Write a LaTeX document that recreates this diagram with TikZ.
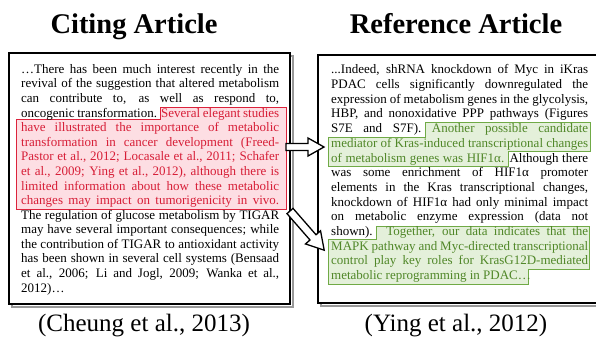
\documentclass[tikz,border=0pt]{standalone}
\usepackage{fontspec}
\setmainfont{Liberation Serif}
\definecolor{redtxt}{RGB}{215,30,55}
\definecolor{redfill}{RGB}{253,222,227}
\definecolor{redline}{RGB}{220,35,60}
\definecolor{grntxt}{RGB}{80,135,40}
\definecolor{grnfill}{RGB}{228,240,218}
\definecolor{grnline}{RGB}{112,170,70}
\newcommand\jlL[1]{\makebox[258pt][s]{#1}}
\newcommand\jlR[1]{\makebox[257pt][s]{#1}}
\newcommand\redt[1]{\textcolor{redtxt}{#1}}
\newcommand\grnt[1]{\textcolor{grntxt}{#1}}
\begin{document}
\begin{tikzpicture}[x=1pt,y=-1pt,
  txt/.style={anchor=base west, inner sep=0pt, font=\fontsize{13}{14.6}\selectfont},
  frame/.style={draw=black, line width=2.2pt, fill=white},
  boxshadow/.style={draw=black!40, line width=2pt},
  redhl/.style={fill=redfill, draw=redline, line width=0.9pt},
  grnhl/.style={fill=grnfill, draw=grnline, line width=0.9pt},
  blockarrow/.style={draw=black, fill=white, line width=1.3pt, line join=miter},
  title/.style={font=\fontsize{28.5}{30}\selectfont\bfseries, anchor=base, inner sep=0pt},
  caption/.style={font=\fontsize{25}{28}\selectfont, anchor=base, inner sep=0pt}]
\useasboundingbox (0,0) rectangle (596,338);
% titles
\node[title] (t1) at (134,33) {Citing Article};
\node[title] (t2) at (456,33) {Reference Article};
% frames
\draw[boxshadow] (11.5,55.5) rectangle (292.5,306.5);
\draw[frame] (9,53) rectangle (290,304);
\draw[boxshadow] (320.5,57.5) rectangle (620,305.5);
\draw[frame] (318,55) rectangle (620,303);
% highlights
\draw[redhl] (160,107) -- (286,107) -- (286,209) -- (16,209) -- (16,119.5) -- (160,119.5) -- cycle;
\draw[grnhl] (425,122) -- (590,122) -- (590,151) -- (508,151) -- (508,166) -- (328,166) -- (328,137) -- (425,137) -- cycle;
\draw[grnhl] (376,226) -- (589,226) -- (589,269) -- (528,269) -- (528,284) -- (328,284) -- (328,239) -- (376,239) -- cycle;
% left text
\node[txt] (l0) at (21,73.3) {\jlL{…There has been much interest recently in the}};
\node[txt] (l1) at (21,87.9) {\jlL{revival of the suggestion that altered metabolism}};
\node[txt] (l2) at (21,102.5) {\jlL{can contribute to, as well as respond to,}};
\node[txt] (l3) at (21,117.0) {\jlL{oncogenic transformation. \redt{Several elegant studies}}};
\node[txt] (l4) at (21,131.6) {\jlL{\redt{have illustrated the importance of metabolic}}};
\node[txt] (l5) at (21,146.2) {\jlL{\redt{transformation in cancer development (Freed-}}};
\node[txt] (l6) at (21,160.8) {\jlL{\redt{Pastor et al., 2012; Locasale et al., 2011; Schafer}}};
\node[txt] (l7) at (21,175.4) {\jlL{\redt{et al., 2009; Ying et al., 2012), although there is}}};
\node[txt] (l8) at (21,190.0) {\jlL{\redt{limited information about how these metabolic}}};
\node[txt] (l9) at (21,204.5) {\jlL{\redt{changes may impact on tumorigenicity in vivo.}}};
\node[txt] (l10) at (21,219.1) {\jlL{The regulation of glucose metabolism by TIGAR}};
\node[txt] (l11) at (21,233.7) {\jlL{may have several important consequences; while}};
\node[txt] (l12) at (21,248.3) {\jlL{the contribution of TIGAR to antioxidant activity}};
\node[txt] (l13) at (21,262.9) {\jlL{has been shown in several cell systems (Bensaad}};
\node[txt] (l14) at (21,277.4) {\jlL{et al., 2006; Li and Jogl, 2009; Wanka et al.,}};
\node[txt] (l15) at (21,292.0) {2012)…};
% right text
\node[txt] (r0) at (331,73.8) {\jlR{...Indeed, shRNA knockdown of Myc in iKras}};
\node[txt] (r1) at (331,88.5) {\jlR{PDAC cells significantly downregulated the}};
\node[txt] (r2) at (331,103.2) {\jlR{expression of metabolism genes in the glycolysis,}};
\node[txt] (r3) at (331,117.9) {\jlR{HBP, and nonoxidative PPP pathways (Figures}};
\node[txt] (r4) at (331,132.6) {\jlR{S7E and S7F). \grnt{Another possible candidate}}};
\node[txt] (r5) at (331,147.3) {\jlR{\grnt{mediator of Kras-induced transcriptional changes}}};
\node[txt] (r6) at (331,162.0) {\jlR{\grnt{of metabolism genes was HIF1α.} Although there}};
\node[txt] (r7) at (331,176.7) {\jlR{was some enrichment of HIF1α promoter}};
\node[txt] (r8) at (331,191.4) {\jlR{elements in the Kras transcriptional changes,}};
\node[txt] (r9) at (331,206.1) {\jlR{knockdown of HIF1α had only minimal impact}};
\node[txt] (r10) at (331,220.8) {\jlR{on metabolic enzyme expression (data not}};
\node[txt] (r11) at (331,235.5) {\jlR{shown). \grnt{Together, our data indicates that the}}};
\node[txt] (r12) at (331,250.2) {\jlR{\grnt{MAPK pathway and Myc-directed transcriptional}}};
\node[txt] (r13) at (331,264.9) {\jlR{\grnt{control play key roles for KrasG12D-mediated}}};
\node[txt] (r14) at (331,279.6) {\grnt{metabolic reprogramming in PDAC…}};
% arrows
\begin{scope}[shift={(286,147)}]
\draw[blockarrow] (0,-3.5) -- (22,-3.5) -- (22,-9) -- (38,0) -- (22,9) -- (22,3.5) -- (0,3.5) -- cycle;
\end{scope}
\begin{scope}[shift={(290,211)}, rotate=-48.9]
\draw[blockarrow] (0,-4) -- (35,-4) -- (35,-10) -- (52,0) -- (35,10) -- (35,4) -- (0,4) -- cycle;
\end{scope}
% captions
\node[caption] (c1) at (144,331) {(Cheung et al., 2013)};
\node[caption] (c2) at (456,331) {(Ying et al., 2012)};
\end{tikzpicture}
\end{document}
